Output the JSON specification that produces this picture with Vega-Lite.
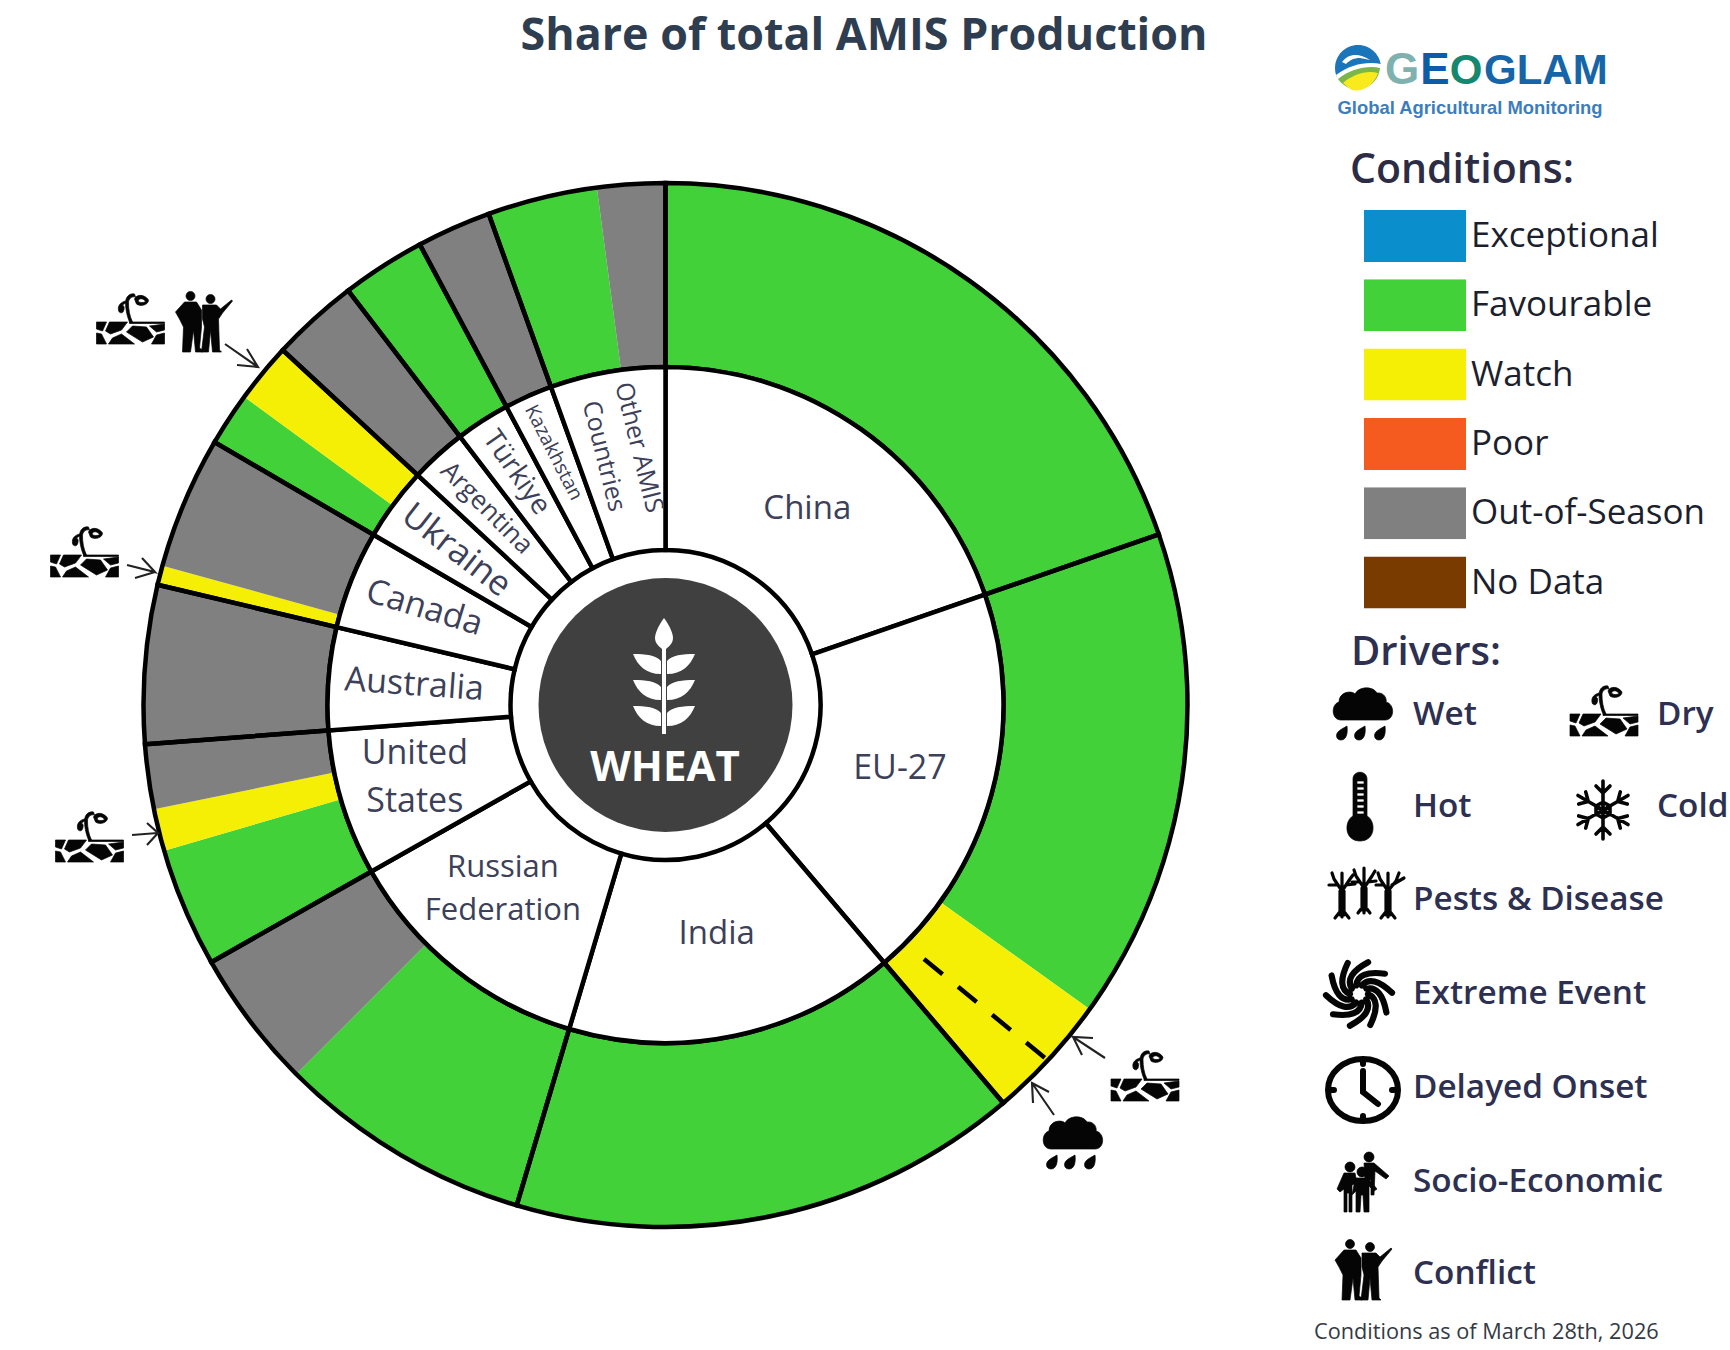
{
"$schema":"https://vega.github.io/schema/vega-lite/v6.json",
"width":1730,"height":1350,"padding":0,"autosize":{"type":"none"},"background":"white",
"title":{"text":"Share of total AMIS Production","anchor":"middle","frame":"group","font":"Open Sans","fontSize":44.8,"fontWeight":"bold","color":"#2e3d4f","baseline":"middle","offset":0,"dy":81.5,"dx":-1},
"config":{"axis":{"disable":true},"view":{"stroke":null}},
"datasets":{
"countries":[
{"idx":1,"country":"China","label":"China","share":19.7},
{"idx":2,"country":"EU-27","label":"EU-27","share":19.1},
{"idx":3,"country":"India","label":"India","share":15.8},
{"idx":4,"country":"Russian Federation","label":"Russian\nFederation","share":12.2},
{"idx":5,"country":"United States","label":"United\nStates","share":7.0},
{"idx":6,"country":"Australia","label":"Australia","share":4.9},
{"idx":7,"country":"Canada","label":"Canada","share":4.7},
{"idx":8,"country":"Ukraine","label":"Ukraine","share":3.5},
{"idx":9,"country":"Argentina","label":"Argentina","share":2.7},
{"idx":10,"country":"Türkiye","label":"Türkiye","share":2.6},
{"idx":11,"country":"Kazakhstan","label":"Kazakhstan","share":2.3},
{"idx":12,"country":"Other AMIS Countries","label":"Other AMIS\nCountries","share":5.5}],
"segments":[
{"idx":1,"country":"China","condition":"Favourable","share":19.7},
{"idx":2,"country":"EU-27","condition":"Favourable","share":15.2},
{"idx":3,"country":"EU-27","condition":"Watch","share":3.9},
{"idx":4,"country":"India","condition":"Favourable","share":15.8},
{"idx":5,"country":"Russian Federation","condition":"Favourable","share":7.9},
{"idx":6,"country":"Russian Federation","condition":"Out-of-Season","share":4.3},
{"idx":7,"country":"United States","condition":"Favourable","share":3.7},
{"idx":8,"country":"United States","condition":"Watch","share":1.3},
{"idx":9,"country":"United States","condition":"Out-of-Season","share":2.0},
{"idx":10,"country":"Australia","condition":"Out-of-Season","share":4.9},
{"idx":11,"country":"Canada","condition":"Watch","share":0.6},
{"idx":12,"country":"Canada","condition":"Out-of-Season","share":4.1},
{"idx":13,"country":"Ukraine","condition":"Favourable","share":1.65},
{"idx":14,"country":"Ukraine","condition":"Watch","share":1.85},
{"idx":15,"country":"Argentina","condition":"Out-of-Season","share":2.7},
{"idx":16,"country":"Türkiye","condition":"Favourable","share":2.6},
{"idx":17,"country":"Kazakhstan","condition":"Out-of-Season","share":2.3},
{"idx":18,"country":"Other AMIS Countries","condition":"Favourable","share":3.4},
{"idx":19,"country":"Other AMIS Countries","condition":"Out-of-Season","share":2.1}],
"icons":[
{"driver":"Dry","x":130.5,"y":319},{"driver":"Conflict","x":203.5,"y":322},{"driver":"Dry","x":84.5,"y":552},{"driver":"Dry","x":89.5,"y":837},{"driver":"Dry","x":1145,"y":1076},{"driver":"Wet","x":1073,"y":1143},
{"driver":"Wet","x":1363,"y":714},{"driver":"Dry","x":1604,"y":711},{"driver":"Hot","x":1360,"y":807},{"driver":"Cold","x":1603,"y":810},{"driver":"Pests & Disease","x":1366,"y":893},{"driver":"Extreme Event","x":1359,"y":994},{"driver":"Delayed Onset","x":1363,"y":1090},{"driver":"Socio-Economic","x":1362,"y":1183},{"driver":"Conflict","x":1363,"y":1270}],
"driverLabels":[
{"driver":"Wet","x":1413,"y":715},{"driver":"Dry","x":1657,"y":715},{"driver":"Hot","x":1413,"y":807},{"driver":"Cold","x":1657,"y":807},{"driver":"Pests & Disease","x":1413,"y":900},{"driver":"Extreme Event","x":1413,"y":994},{"driver":"Delayed Onset","x":1413,"y":1088},{"driver":"Socio-Economic","x":1413,"y":1182},{"driver":"Conflict","x":1413,"y":1274}],
"arrows":[
{"a":1,"s":1,"x":225,"y":344},{"a":1,"s":2,"x":258,"y":367},{"a":1,"s":3,"x":247,"y":349},{"a":1,"s":4,"x":258,"y":367},{"a":1,"s":5,"x":237,"y":365},
{"a":2,"s":1,"x":127,"y":565},{"a":2,"s":2,"x":155,"y":572},{"a":2,"s":3,"x":142,"y":558},{"a":2,"s":4,"x":155,"y":572},{"a":2,"s":5,"x":135,"y":578},
{"a":3,"s":1,"x":132,"y":835},{"a":3,"s":2,"x":158,"y":833},{"a":3,"s":3,"x":147,"y":823},{"a":3,"s":4,"x":158,"y":833},{"a":3,"s":5,"x":147,"y":845},
{"a":4,"s":1,"x":1105,"y":1058},{"a":4,"s":2,"x":1073,"y":1037},{"a":4,"s":3,"x":1093,"y":1038},{"a":4,"s":4,"x":1073,"y":1037},{"a":4,"s":5,"x":1082,"y":1055},
{"a":5,"s":1,"x":1054,"y":1115},{"a":5,"s":2,"x":1032,"y":1083},{"a":5,"s":3,"x":1049,"y":1092},{"a":5,"s":4,"x":1032,"y":1083},{"a":5,"s":5,"x":1033,"y":1103}]
},
"layer":[
{"encoding":{
"x":{"datum":665.5,"type":"quantitative","scale":{"domain":[0,1730],"nice":false,"zero":false}},
"y":{"datum":705,"type":"quantitative","scale":{"domain":[1350,0],"nice":false,"zero":false}}
},
"layer":[
{"data":{"name":"segments"},
 "mark":{"type":"arc","radius":522,"radius2":338},
 "encoding":{
  "theta":{"field":"share","type":"quantitative","stack":true,"scale":{"domain":[0,100],"range":[0,6.283185]}},
  "order":{"field":"idx","type":"quantitative"},
  "detail":{"field":"country"},
  "color":{"field":"condition","type":"nominal","title":"Conditions:",
   "scale":{"domain":["Exceptional","Favourable","Watch","Poor","Out-of-Season","No Data"],"range":["#0a8fcc","#43d13a","#f5ee05","#f55a1e","#808080","#7a3b00"]},
   "legend":{"orient":"none","legendX":1350,"legendY":151,"symbolType":"M-1,-0.51H1V0.51H-1Z","symbolSize":10404,"clipHeight":52,"rowPadding":17.3,"symbolOffset":14,"labelOffset":5,"labelFont":"Open Sans","labelFontSize":35,"labelColor":"#1c1f2e","labelLimit":400,"titleFont":"Open Sans","titleFontSize":41,"titleFontWeight":600,"titleColor":"#2c2d45","titlePadding":18,"titleLimit":400,"symbolStrokeWidth":0,"symbolOpacity":1,"values":["Exceptional","Favourable","Watch","Poor","Out-of-Season","No Data"]}}
 }},
{"data":{"name":"countries"},
 "mark":{"type":"arc","radius":522,"radius2":338,"fillOpacity":0,"stroke":"#000","strokeWidth":4.5},
 "encoding":{
  "theta":{"field":"share","type":"quantitative","stack":true,"scale":{"domain":[0,100],"range":[0,6.283185]}},
  "order":{"field":"idx","type":"quantitative"},"detail":{"field":"country"}}},
{"data":{"name":"countries"},
 "mark":{"type":"arc","radius":338,"radius2":155,"fill":"#ffffff","stroke":"#000","strokeWidth":4.5},
 "encoding":{
  "theta":{"field":"share","type":"quantitative","stack":true,"scale":{"domain":[0,100],"range":[0,6.283185]}},
  "order":{"field":"idx","type":"quantitative"},"detail":{"field":"country"}}},
{"data":{"values":[{"crop":"Wheat"}]},
 "mark":{"type":"arc","radius":127,"radius2":0,"theta":0,"theta2":6.2832,"fill":"#404040"},
 "encoding":{}},
{"data":{"values":[{"crop":"Wheat"}]},
 "mark":{"type":"point","filled":true,"opacity":1,"size":4,"color":"#ffffff","shape":"M0,-58C6,-50 9,-42 9,-38C9,-32 4,-29 2,-27L2,58L-2,58L-2,-27C-4,-29 -9,-32 -9,-38C-9,-42 -6,-50 0,-58ZM-3,-2L-3,-15C-8,-21 -18,-22 -31,-22C-26,-10 -18,-2 -3,-2ZM3,-2L3,-15C8,-21 18,-22 31,-22C26,-10 18,-2 3,-2ZM-3,24L-3,11C-8,5 -18,4 -31,4C-26,16 -18,24 -3,24ZM3,24L3,11C8,5 18,4 31,4C26,16 18,24 3,24ZM-3,50L-3,37C-8,31 -18,30 -31,30C-26,42 -18,50 -3,50ZM3,50L3,37C8,31 18,30 31,30C26,42 18,50 3,50Z"},
 "encoding":{"x":{"datum":664,"type":"quantitative"},"y":{"datum":676,"type":"quantitative"}}},
{"data":{"values":[{"crop":"WHEAT"}]},
 "mark":{"type":"text","font":"Open Sans","fontWeight":"bold","fontSize":42,"fill":"#ffffff","align":"center","baseline":"middle"},
 "encoding":{"text":{"field":"crop"},"x":{"datum":665,"type":"quantitative"},"y":{"datum":768,"type":"quantitative"}}},
{"data":{"name":"countries"},
 "encoding":{
  "theta":{"field":"share","type":"quantitative","stack":true,"scale":{"domain":[0,100],"range":[0,6.283185]}},
  "order":{"field":"idx","type":"quantitative"},
  "detail":{"field":"country"},
  "angle":{"field":"country","type":"nominal","legend":null,"scale":{"type":"ordinal","domain":["China","EU-27","India","Russian Federation","United States","Australia","Canada","Ukraine","Argentina","Türkiye","Kazakhstan","Other AMIS Countries"],"range":[0,0,0,0,0,4,17,38,45,55,63,76]}},
  "size":{"field":"country","type":"nominal","legend":null,"scale":{"type":"ordinal","domain":["China","EU-27","India","Russian Federation","United States","Australia","Canada","Ukraine","Argentina","Türkiye","Kazakhstan","Other AMIS Countries"],"range":[33,34,33,31,34,34,34,35,26,28,19.5,25]}}
 },
 "layer":[
 {"mark":{"type":"text","font":"Open Sans","fill":"#3c4058","radius":234,"dx":3,"lineBreak":"\n","align":"center","baseline":"middle"},
  "encoding":{"text":{"condition":{"test":"datum.country=='India'","field":"label"},"value":""}}},
 {"mark":{"type":"text","font":"Open Sans","fill":"#3c4058","radius":241,"dx":2,"lineBreak":"\n","align":"center","baseline":"middle"},
  "encoding":{"text":{"condition":{"test":"indexof(['China','EU-27'],datum.country)>=0","field":"label"},"value":""}}},
 {"mark":{"type":"text","font":"Open Sans","fill":"#3c4058","radius":245,"dx":-10,"dy":-29,"lineBreak":"\n","lineHeight":43,"align":"center","baseline":"middle"},
  "encoding":{"text":{"condition":{"test":"datum.country=='Russian Federation'","field":"label"},"value":""}}},
 {"mark":{"type":"text","font":"Open Sans","fill":"#3c4058","radius":255,"dx":3,"lineBreak":"\n","align":"center","baseline":"middle"},
  "encoding":{"text":{"condition":{"test":"datum.country=='Australia'","field":"label"},"value":""}}},
 {"mark":{"type":"text","font":"Open Sans","fill":"#3c4058","radius":259,"dx":2,"dy":-18,"lineBreak":"\n","lineHeight":36,"align":"center","baseline":"middle"},
  "encoding":{"text":{"condition":{"test":"datum.country=='Other AMIS Countries'","field":"label"},"value":""}}},
 {"mark":{"type":"text","font":"Open Sans","fill":"#3c4058","radius":262,"dy":-27,"lineBreak":"\n","lineHeight":48,"align":"center","baseline":"middle"},
  "encoding":{"text":{"condition":{"test":"datum.country=='United States'","field":"label"},"value":""}}},
 {"mark":{"type":"text","font":"Open Sans","fill":"#3c4058","radius":262,"dx":2,"lineBreak":"\n","align":"center","baseline":"middle"},
  "encoding":{"text":{"condition":{"test":"indexof(['Canada','Ukraine'],datum.country)>=0","field":"label"},"value":""}}},
 {"mark":{"type":"text","font":"Open Sans","fill":"#3c4058","radius":268,"dx":2,"lineBreak":"\n","align":"center","baseline":"middle"},
  "encoding":{"text":{"condition":{"test":"datum.country=='Argentina'","field":"label"},"value":""}}},
 {"mark":{"type":"text","font":"Open Sans","fill":"#3c4058","radius":277,"dx":1,"lineBreak":"\n","align":"center","baseline":"middle"},
  "encoding":{"text":{"condition":{"test":"indexof(['Türkiye','Kazakhstan'],datum.country)>=0","field":"label"},"value":""}}}
 ]}
]},
{"data":{"values":[{"from":"EU-27 split","x":924,"y":959,"x2":1045,"y2":1058}]},
 "mark":{"type":"rule","stroke":"#000","strokeWidth":4.5,"strokeDash":[24,20]},
 "encoding":{"x":{"field":"x","type":"quantitative"},"y":{"field":"y","type":"quantitative"},"x2":{"field":"x2"},"y2":{"field":"y2"}}},
{"data":{"name":"arrows"},
 "mark":{"type":"line","stroke":"#222222","strokeWidth":2.1},
 "encoding":{"x":{"field":"x","type":"quantitative"},"y":{"field":"y","type":"quantitative"},"detail":{"field":"a"},"order":{"field":"s","type":"quantitative"}}},
{"data":{"name":"icons"},
 "transform":[{"filter":"indexof(['Cold','Pests & Disease','Extreme Event','Delayed Onset'],datum.driver)<0"}],
 "mark":{"type":"point","filled":true,"opacity":1,"size":4,"color":"#050505","stroke":"#050505","strokeWidth":0.7},
 "encoding":{"x":{"field":"x","type":"quantitative"},"y":{"field":"y","type":"quantitative"},
  "shape":{"field":"driver","type":"nominal","legend":null,"scale":{"domain":["Wet","Dry","Hot","Socio-Economic","Conflict","Cold","Pests & Disease","Extreme Event","Delayed Onset"],"range":[
   "M-22,6C-32,6 -32,-10 -24,-12C-24,-22 -12,-24 -8,-20C-4,-28 10,-28 14,-21C22,-22 24,-14 23,-12C32,-10 32,6 22,6ZM-16,12C-15,20 -17,26 -22,26C-27,26 -28,20 -24,17C-22,15 -19,14 -16,12ZM2,12C3,20 1,26 -4,26C-9,26 -10,20 -6,17C-4,15 -1,14 2,12ZM22,12C23,20 21,26 16,26C11,26 10,20 14,17C16,15 19,14 22,12Z",
   "M-34,3L-24,3L-28,12L-34,10ZM-34,14L-29,15L-24,25L-34,25ZM-21,3L-3,3L-9,11L-20,15L-25,12ZM-22,25L-18,19L-9,15L4,25ZM-4,13L2,7L16,8L23,18L12,23ZM19,7L34,5L34,11L26,13ZM26,16L34,14L34,25L21,25ZM-1,3H34V4.5H-1ZM-1,3C-4,-4 -5,-12 -5,-16C-5,-23 0,-26 4,-25L5,-22C1,-23 -2,-20 -2,-16C-2,-10 -1,-3 2,3ZM4,-20C6,-25 14,-25 18,-19C18,-14 10,-12 6,-15ZM7.5,-18C9,-16 13,-16 15,-17.5C13,-20.5 9,-21.5 7.5,-18ZM-5,-18C-9,-17 -13,-14 -12,-9C-12,-6 -8,-5 -7,-8C-6,-11 -6,-13 -8,-14L-5,-16Z",
   "M-7,-28C-7,-37 7,-37 7,-28L7,9C16,14 16,34 0,34C-16,34 -16,14 -7,9ZM-3,-26V-23H4V-26ZM-3,-20V-17H4V-20ZM-3,-14V-11H4V-14ZM-3,-8V-5H4V-8ZM-3,-2V1H4V-2ZM-3,4V7H4V4Z",
   "M2,-26A5,5 0 1 1 12,-26A5,5 0 1 1 2,-26ZM-17,-16A5,5 0 1 1 -7,-16A5,5 0 1 1 -17,-16ZM-5,-11A5,5 0 1 1 5,-11A5,5 0 1 1 -5,-11ZM2,-20L12,-20L27,-7L24,-4L13,-12L12,12L9,12L9,-3L3,-3ZM-18,-10L-7,-10L-5,0L-10,2L-10,29L-13,29L-13,10L-15,10L-15,29L-18,29L-18,6L-22,9L-25,6ZM-6,-5L6,-5L15,6L12,8L7,3L7,29L2,29L1,12L-1,12L-2,29L-6,29L-6,8L-10,12L-8,2Z",
   "M-17.5,-26A4.5,4.5 0 1 1 -8.5,-26A4.5,4.5 0 1 1 -17.5,-26ZM2.5,-23A4.5,4.5 0 1 1 11.5,-23A4.5,4.5 0 1 1 2.5,-23ZM-19,-20L-7,-20L-2,-12L-2,5L-4,26L-1,28L-1,30L-8,30L-10,8L-13,30L-21,30L-20,5L-24,-3L-28,-10ZM-1,-17L13,-17L17,-13L28,-22L29,-21L19,-9L15,-3L16,28L18,30L9,30L7,8L5,30L-2,30L1,5L-1,-3Z",
   "M0,-29V29M-25,-14.5L25,14.5M-25,14.5L25,-14.5M-7,-24L0,-17L7,-24M-7,24L0,17L7,24M17.3,-18.1L14.7,-8.5L24.3,-5.9M24.3,5.9L14.7,8.5L17.3,18.1M-17.3,-18.1L-14.7,-8.5L-24.3,-5.9M-24.3,5.9L-14.7,8.5L-17.3,18.1M0,-8L7,-4V4L0,8L-7,4V-4Z",
   "M-26,22L-26,-2M-24,24L-24,-5M-22,22L-22,-2M-31,25L-24,16L-17,25M-24,-2L-32,-14M-24,-2L-16,-14M-28,-8L-37,-8M-20,-8L-11,-9M-24,-5L-24,-20M-32,-14L-34,-20M-16,-14L-13,-18M-4,17L-4,-5M-2,20L-2,-8M0,17L0,-5M-8,20L-2,12L4,20M-2,-5L-10,-17M-2,-5L6,-17M-6,-11L-14,-11M2,-11L10,-12M-2,-8L-2,-25M-10,-17L-12,-23M6,-17L9,-22M20,22L20,-2M22,24L22,-5M24,22L24,-2M15,25L22,16L29,25M22,-2L14,-14M22,-2L30,-12M18,-8L10,-8M26,-8L38,-15M22,-5L22,-20M14,-14L12,-20M30,-12L33,-20",
   "M9,0Q23.2,6.2 11.3,31M7.3,5.3Q15.1,18.7 -9.1,31.7M2.8,8.6Q1.3,24 -26,20.3M-2.8,8.6Q-13.1,20.1 -33,1.2M-7.3,5.3Q-22.4,8.6 -27.4,-18.5M-9,0Q-23.2,-6.2 -11.3,-31M-7.3,-5.3Q-15.1,-18.7 9.1,-31.7M-2.8,-8.6Q-1.3,-24 26,-20.3M2.8,-8.6Q13.1,-20.1 33,-1.2M7.3,-5.3Q22.4,-8.6 27.4,18.5",
   "M-35,0A35,31 0 1 1 35,0A35,31 0 1 1 -35,0ZM0,-19L0,2L15,14M0,-30V-26M0,30V26M-34,0H-29M34,0H29"]}}}},
{"data":{"name":"icons"},
 "transform":[{"filter":"indexof(['Cold','Pests & Disease','Extreme Event','Delayed Onset'],datum.driver)>=0"}],
 "mark":{"type":"point","filled":false,"opacity":1,"size":4,"stroke":"#050505","strokeCap":"round"},
 "encoding":{"x":{"field":"x","type":"quantitative"},"y":{"field":"y","type":"quantitative"},
  "strokeWidth":{"field":"driver","type":"nominal","legend":null,"scale":{"type":"ordinal","domain":["Cold","Pests & Disease","Extreme Event","Delayed Onset"],"range":[3.6,3.2,6.2,6]}},
  "shape":{"field":"driver","type":"nominal","legend":null}}},
{"data":{"name":"driverLabels"},
 "mark":{"type":"text","font":"Open Sans","fontWeight":600,"fontSize":33.3,"fill":"#2d3050","align":"left","baseline":"middle"},
 "encoding":{"x":{"field":"x","type":"quantitative"},"y":{"field":"y","type":"quantitative"},"text":{"field":"driver"}}},
{"data":{"values":[{"t":"Drivers:"}]},
 "mark":{"type":"text","font":"Open Sans","fontWeight":600,"fontSize":40,"fill":"#2d3050","align":"left","baseline":"middle"},
 "encoding":{"x":{"datum":1351,"type":"quantitative"},"y":{"datum":653,"type":"quantitative"},"text":{"field":"t"}}},
{"data":{"values":[{"t":"Conditions as of March 28th, 2026"}]},
 "mark":{"type":"text","font":"Open Sans","fontWeight":500,"fontSize":21.7,"fill":"#333a45","align":"left","baseline":"middle"},
 "encoding":{"x":{"datum":1314,"type":"quantitative"},"y":{"datum":1332,"type":"quantitative"},"text":{"field":"t"}}},
{"data":{"values":[{"p":"logo"}]},"mark":{"type":"point","filled":true,"opacity":1,"size":4,"color":"#1b75bb","shape":"M-23,0A23,23 0 1 1 23,0A23,23 0 1 1 -23,0Z"},"encoding":{"x":{"datum":1358,"type":"quantitative"},"y":{"datum":68,"type":"quantitative"}}},
{"data":{"values":[{"p":"logo"}]},"mark":{"type":"point","filled":true,"opacity":1,"size":4,"color":"#ffffff","shape":"M-22,7C-8,-4 10,-7 23,-4A23,23 0 0 1 -22,7ZM-16,-6C-10,-14 0,-16 12,-8L2,-10C-4,-10 -8,-8 -12,-4Z"},"encoding":{"x":{"datum":1358,"type":"quantitative"},"y":{"datum":68,"type":"quantitative"}}},
{"data":{"values":[{"p":"logo"}]},"mark":{"type":"point","filled":true,"opacity":1,"size":4,"color":"#7ab648","shape":"M-20,11C-8,1 10,-3 22,0A23,23 0 0 1 -20,11Z"},"encoding":{"x":{"datum":1358,"type":"quantitative"},"y":{"datum":68,"type":"quantitative"}}},
{"data":{"values":[{"p":"logo"}]},"mark":{"type":"point","filled":true,"opacity":1,"size":4,"color":"#f8ea1c","shape":"M-15,15C-6,7 8,2 20,5C16,18 2,26 -8,21Z"},"encoding":{"x":{"datum":1358,"type":"quantitative"},"y":{"datum":68,"type":"quantitative"}}},
{"data":{"values":[{"t":"G"}]},"mark":{"type":"text","font":"Liberation Sans","fontWeight":"bold","fontSize":44,"fill":"#7fb2ae","align":"center","baseline":"middle"},"encoding":{"x":{"datum":1402,"type":"quantitative"},"y":{"datum":71,"type":"quantitative"},"text":{"field":"t"}}},
{"data":{"values":[{"t":"E"}]},"mark":{"type":"text","font":"Liberation Sans","fontWeight":"bold","fontSize":44,"fill":"#0d5ca8","align":"center","baseline":"middle"},"encoding":{"x":{"datum":1435,"type":"quantitative"},"y":{"datum":71,"type":"quantitative"},"text":{"field":"t"}}},
{"data":{"values":[{"t":"O"}]},"mark":{"type":"text","font":"Liberation Sans","fontWeight":"bold","fontSize":42,"fill":"#16876f","align":"center","baseline":"middle"},"encoding":{"x":{"datum":1466,"type":"quantitative"},"y":{"datum":71,"type":"quantitative"},"text":{"field":"t"}}},
{"data":{"values":[{"t":"GLAM"}]},"mark":{"type":"text","font":"Liberation Sans","fontWeight":"bold","fontSize":42,"fill":"#1565a8","align":"left","baseline":"middle"},"encoding":{"x":{"datum":1484,"type":"quantitative"},"y":{"datum":71,"type":"quantitative"},"text":{"field":"t"}}},
{"data":{"values":[{"t":"Global Agricultural Monitoring"}]},"mark":{"type":"text","font":"Liberation Sans","fontWeight":"bold","fontSize":18.4,"fill":"#3c7dbd","align":"center","baseline":"middle"},"encoding":{"x":{"datum":1470,"type":"quantitative"},"y":{"datum":108,"type":"quantitative"},"text":{"field":"t"}}}
]
}
